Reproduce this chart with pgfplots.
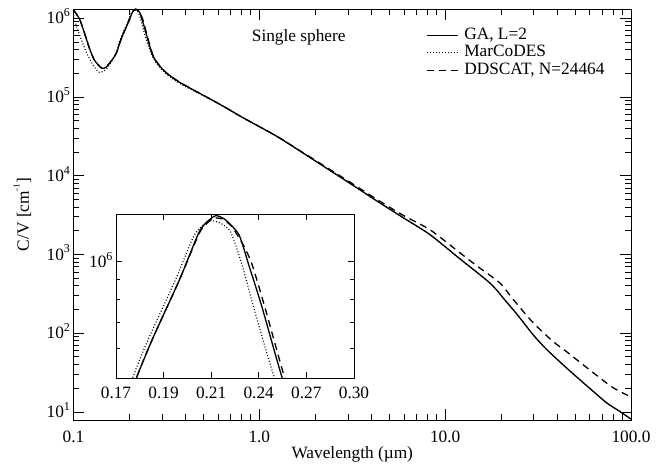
\documentclass[border=0pt]{standalone}
\usepackage{fontspec}
\setmainfont{Liberation Serif}
\usepackage{pgfplots}
\usepackage{pgfplotstable}
\pgfplotsset{compat=1.18}
\pgfplotsset{longleg/.style={legend image code/.code={\draw[##1] (0pt,0pt) -- (31pt,0pt);}}}
\newcommand\E[1]{10\smash{\raisebox{0.42em}{\fontsize{12}{12}\selectfont #1}}}

\pgfplotstableread{
x y
0.1000 1.27e6
0.1040 1.12e6
0.1084 9.5e5
0.1150 6.3e5
0.1227 3.96e5
0.1300 2.9e5
0.1419 2.32e5
0.1500 2.4e5
0.1637 3.1e5
0.1708 3.7e5
0.1782 5.0e5
0.1856 6.38e5
0.1978 8.98e5
0.2073 1.19e6
0.2123 1.277e6
0.2160 1.31e6
0.2209 1.277e6
0.2280 1.17e6
0.2334 9.8e5
0.2408 7.68e5
0.2531 5.0e5
0.2688 3.26e5
0.290 2.5e5
0.318 2.0e5
0.370 1.55e5
0.441 1.23e5
0.55 9.3e4
0.667 7.2e4
0.80 5.6e4
1.00 4.2e4
1.29 3.0e4
2.00 1.54e4
3.00 8.3e3
4.47 4490
6.00 2890
8.30 1780
12.0 880
15.0 580
17.4 434
19.0 350
21.0 262
24.3 175
29.8 95
35.2 62
45.1 36
57.8 21.5
74.1 13
88 10
100 8.1
}\ga

\pgfplotstableread{
x y
0.1000 1.10e6
0.1040 7.8e5
0.1100 5.4e5
0.1178 3.6e5
0.1280 2.5e5
0.1380 2.05e5
0.1500 2.25e5
0.1637 3.05e5
0.1700 3.65e5
0.1766 5.0e5
0.1838 6.38e5
0.1959 8.98e5
0.2050 1.17e6
0.2125 1.27e6
0.2185 1.25e6
0.2235 1.19e6
0.2297 9.8e5
0.2371 7.38e5
0.2486 5.0e5
0.2688 3.1e5
0.290 2.4e5
0.318 1.93e5
0.370 1.5e5
0.441 1.21e5
0.55 9.2e4
0.667 7.2e4
0.80 5.6e4
1.00 4.2e4
1.29 3.0e4
2.00 1.54e4
3.00 8.3e3
4.47 4490
6.00 2890
8.30 1780
12.0 880
15.0 580
17.4 434
19.0 350
21.0 262
24.3 175
29.8 95
35.2 62
45.1 36
57.8 21.5
74.1 13
88 10
100 8.1
}\mc

\pgfplotstableread{
x y
0.1000 1.27e6
0.1040 1.12e6
0.1084 9.5e5
0.1150 6.3e5
0.1227 3.96e5
0.1300 2.9e5
0.1419 2.32e5
0.1500 2.4e5
0.1637 3.1e5
0.1708 3.7e5
0.1782 5.0e5
0.1856 6.38e5
0.1978 8.98e5
0.2073 1.18e6
0.2110 1.25e6
0.2145 1.29e6
0.2190 1.285e6
0.2240 1.23e6
0.2300 1.11e6
0.2350 9.9e5
0.2420 7.8e5
0.2546 5.0e5
0.2688 3.3e5
0.290 2.5e5
0.318 2.0e5
0.370 1.55e5
0.441 1.23e5
0.55 9.3e4
0.667 7.2e4
0.80 5.6e4
1.00 4.2e4
1.29 3.0e4
2.00 1.57e4
3.00 8.6e3
4.47 4710
6.00 3100
8.30 2056
12.0 1050
15.0 700
19.7 434
23.3 266
29.8 135
38.2 78
45.1 58
62.8 31.3
80.4 20.2
100 15.5
}\dd

\begin{document}
\begin{tikzpicture}[font=\fontsize{17.3}{17.5}\selectfont]
\begin{axis}[
  at={(73.5pt,46pt)}, anchor=south west, scale only axis,
  width=557.5pt, height=411pt,
  xmode=log, ymode=log,
  xmin=0.1, xmax=100, ymin=7.9, ymax=1.31e6,
  xtick={0.1,1,10,100}, xticklabels={0.1,1.0,10.0,100.0},
  ytick={1e1,1e2,1e3,1e4,1e5,1e6},
  yticklabels={\E{1},\E{2},\E{3},\E{4},\E{5},\E{6}},
  tick align=inside, tick pos=both,
  major tick length=11pt, minor tick length=6pt,
  axis line style={line width=0.9pt},
  every tick/.style={black, line width=0.8pt},
  xticklabel style={yshift=-7pt},
  xlabel={Wavelength (µm)},
  ylabel={C/V [cm\raisebox{0.55em}{\fontsize{9}{9}\selectfont -1}]},
  xlabel style={at={(axis description cs:0.5,-0.083)}, anchor=center},
  ylabel style={at={(axis description cs:-0.092,0.5)}, anchor=center},
  legend style={draw=none, fill=none, at={(0.632,0.958)}, anchor=north west,
    legend cell align=left, row sep=0pt, column sep=5pt, inner sep=0pt,
    nodes={inner sep=1pt, text height=12pt, text depth=3.5pt}},
]
\addplot[black, line width=1.3pt, smooth, tension=0.4, longleg] table {\ga};
\addlegendentry{GA, L=2}
\addplot[black, line width=1.1pt, dash pattern=on 1pt off 2pt, smooth, tension=0.4, longleg] table {\mc};
\addlegendentry{MarCoDES}
\addplot[black, line width=1.3pt, dash pattern=on 7pt off 5pt, smooth, tension=0.4, longleg] table {\dd};
\addlegendentry{DDSCAT, N=24464}
\node at (axis description cs:0.404,0.932) {Single sphere};
\end{axis}
\begin{axis}[
  at={(116pt,87.5pt)}, anchor=south west, scale only axis,
  width=238pt, height=164.5pt,
  xmode=log, ymode=log,
  xmin=0.17, xmax=0.30, ymin=5.04e5, ymax=1.323e6,
  xtick={0.17,0.19043,0.21333,0.23898,0.26771,0.30},
  xticklabels={0.17,0.19,0.21,0.24,0.27,0.30},
  xminorticks=false,
  ytick={1e6}, yticklabels={\E{6}},
  minor ytick={6e5,7e5,8e5,9e5},
  tick align=inside, tick pos=both,
  major tick length=6pt, minor tick length=4pt,
  axis line style={line width=0.9pt},
  every tick/.style={black, line width=0.8pt},
  xticklabel style={yshift=-5pt},
  axis background/.style={fill=white},
]
\addplot[black, line width=1.3pt, smooth, tension=0.4] table {\ga};
\addplot[black, line width=1.1pt, dash pattern=on 1pt off 2pt, smooth, tension=0.4] table {\mc};
\addplot[black, line width=1.3pt, dash pattern=on 7pt off 5pt, smooth, tension=0.4] table {\dd};
\end{axis}
\pgfresetboundingbox
\path (0pt,0pt) rectangle (667pt,466pt);
\end{tikzpicture}
\end{document}
